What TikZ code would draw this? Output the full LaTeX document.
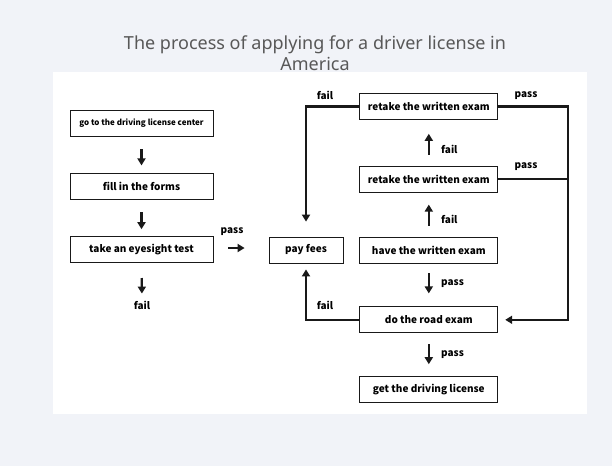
\documentclass[tikz,border=0pt]{standalone}
\usepackage{fontspec}
\usepackage{tikz}
\usepackage{xcolor}
\usetikzlibrary{arrows.meta,positioning,calc}
\setmainfont{Noto Sans}
\newfontfamily\boxfont{Noto Sans CJK SC}
\definecolor{pagebg}{RGB}{241,243,248}
\definecolor{titlegray}{RGB}{88,88,88}
\definecolor{inkdark}{RGB}{25,25,25}

\begin{document}
\begin{tikzpicture}[
    x=1pt, y=-1pt,
    stepbox/.style={rectangle, draw=inkdark, line width=0.8pt, fill=white, align=center, minimum width=138pt, minimum height=26pt, inner sep=2pt, font=\boxfont\bfseries\fontsize{10}{12}\selectfont},
    leftbox/.style={stepbox, minimum width=143pt},
    tag/.style={inner sep=1pt, font=\boxfont\bfseries\fontsize{10}{12}\selectfont},
    arrow/.style={-{Triangle[length=7pt,width=8pt]}, line width=2.3pt, draw=inkdark},
    rail/.style={line width=2.3pt, draw=inkdark}
  ]
    \useasboundingbox (0,0) rectangle (612,466);
    \fill[pagebg] (0,0) rectangle (612,466);
    \fill[white] (53,72) rectangle (587,414);

    \node[font=\fontsize{18}{21}\selectfont, text=titlegray, align=center, inner sep=0pt, anchor=north] (title) at (315,35.5) {The process of applying for a driver license in\\America};

    \node[leftbox, font=\boxfont\bfseries\fontsize{8}{10}\selectfont] (center) at (141.5,123) {go to the driving license center};
    \node[leftbox, below=37pt of center] (forms) {fill in the forms};
    \node[leftbox, below=36pt of forms] (eyetest) {take an eyesight test};
    \node[tag] (eyefail) at (142,305) {fail};
    \node[tag] (eyepass) at (232,232) {pass};

    \node[stepbox, minimum width=74pt] (fees) at (306,250) {pay fees};
    \node[stepbox, right=16pt of fees] (written) {have the written exam};
    \node[stepbox, above=44pt of written] (retakeb) {retake the written exam};
    \node[stepbox, above=46pt of retakeb] (retakea) {retake the written exam};
    \node[stepbox, below=43pt of written] (road) {do the road exam};
    \node[stepbox, below=43pt of road] (license) {get the driving license};
    \coordinate (rightrail) at (568,0);

    \node[tag] (topfail) at (325,95) {fail};
    \node[tag] (toppass) at (526,96) {pass};
    \node[tag] (midpass) at (526,167) {pass};
    \node[tag, right] (failb) at (440,219) {fail};
    \node[tag, right] (faila) at (440,149) {fail};
    \node[tag, right] (writtenpass) at (440,284) {pass};
    \node[tag, right] (roadpass) at (440,355) {pass};
    \node[tag] (roadfail) at (325,305) {fail};

    \draw[arrow, shorten <=13pt, shorten >=8pt] (center) -- (forms);
    \draw[arrow, shorten <=12pt, shorten >=7pt] (forms) -- (eyetest);
    \draw[arrow, shorten <=15pt, shorten >=6pt] (eyetest) -- (eyefail);
    \draw[arrow, shorten <=15pt, shorten >=24pt] (eyetest.east |- 0,248) -- (fees.west |- 0,248);

    \draw[arrow, shorten <=11pt, shorten >=12pt] (written) -- (retakeb);
    \draw[arrow, shorten <=11pt, shorten >=14pt] (retakeb) -- (retakea);
    \draw[arrow, shorten <=10pt, shorten >=13pt] (written) -- (road);
    \draw[arrow, shorten <=11pt, shorten >=12pt] (road) -- (license);

    \draw[arrow, shorten >=15pt] (retakea.west) -| (fees.north);
    \draw[arrow, shorten >=6pt] (road.west) -| (fees.south);
    \draw[arrow, shorten >=7pt] (retakea.east) -- (retakea.east -| rightrail) |- (road.east);
    \draw[rail] (retakeb.east) -- (retakeb.east -| rightrail);
  \end{tikzpicture}
\end{document}
